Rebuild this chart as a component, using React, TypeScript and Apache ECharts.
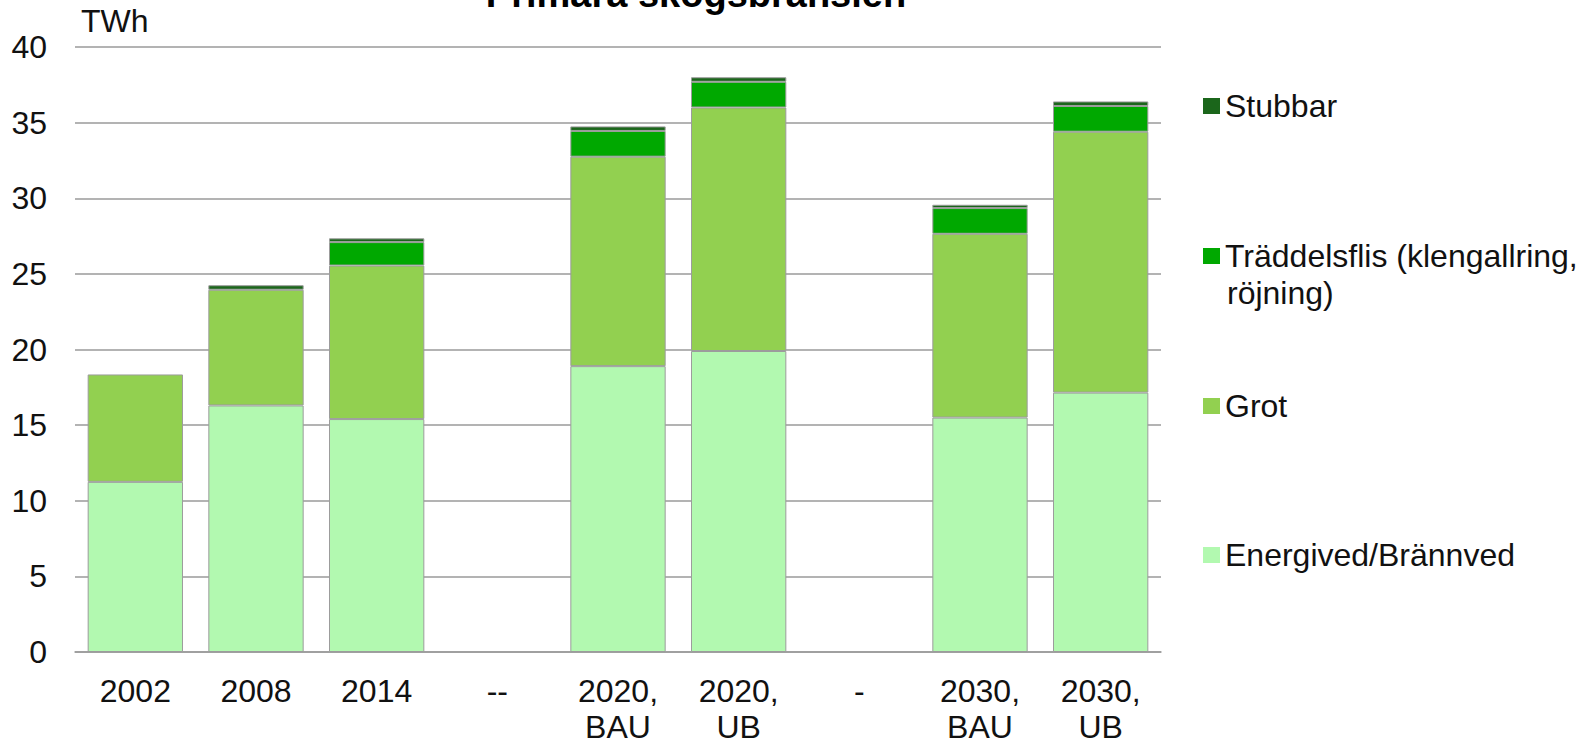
import React, { useEffect, useRef } from "react";
import * as echarts from "echarts";

const categories = ["2002", "2008", "2014", "--", "2020,\nBAU", "2020,\nUB", "-", "2030,\nBAU", "2030,\nUB"];
const energived = [11.25, 16.3, 15.4, null, 18.9, 19.9, null, 15.5, 17.15];
const grot = [7.1, 7.65, 10.15, null, 13.85, 16.1, null, 12.15, 17.25];
const traddelsflis = [null, null, 1.55, null, 1.7, 1.7, null, 1.7, 1.7];
const stubbar = [null, 0.3, 0.25, null, 0.3, 0.3, null, 0.22, 0.3];

const seriesNames = ["Energived/Brännved", "Grot", "Träddelsflis (klengallring, röjning)", "Stubbar"];
const seriesColors = ["#b2f9b0", "#92d050", "#00a800", "#1b661b"];
const seriesData = [energived, grot, traddelsflis, stubbar];

const FONT = "'Liberation Sans', Arial, sans-serif";

export default function App() {
  const ref = useRef<HTMLDivElement>(null);
  useEffect(() => {
    if (!ref.current) return;
    const chart = echarts.init(ref.current, undefined, { renderer: "svg" });
    const legendCenters = [555, 406, 256, 106];
    const legends = seriesNames.map((name, i) => ({
      show: true,
      data: [name],
      left: 1203,
      top: legendCenters[i] - 16,
      orient: "vertical",
      padding: 0,
      icon: "rect",
      itemWidth: 17,
      itemHeight: 16,
      itemGap: 0,
      selectedMode: false,
      itemStyle: { borderWidth: 0 },
      formatter: (n: string) => (n.startsWith("Träddelsflis") ? "Träddelsflis (klengallring," : n),
      textStyle: { fontSize: 32, fontFamily: FONT, color: "#111", padding: [0, 0, 0, 0] },
    }));
    chart.setOption({
      animation: false,
      backgroundColor: "#ffffff",
      grid: { left: 75, right: 433, top: 47, bottom: 93 },
      legend: legends,
      graphic: [
        {
          type: "text",
          x: 696,
          y: -6,
          style: {
            text: "Primära skogsbränslen",
            font: `bold 38px ${FONT}`,
            fill: "#000",
            align: "center",
            verticalAlign: "middle",
          },
        },
        {
          type: "text",
          x: 1227,
          y: 293,
          style: {
            text: "röjning)",
            font: `32px ${FONT}`,
            fill: "#111",
            align: "left",
            verticalAlign: "middle",
          },
        },
      ],
      xAxis: {
        type: "category",
        data: categories,
        axisLine: { show: true, lineStyle: { color: "#9a9a9a", width: 1.5 } },
        axisTick: { show: false },
        axisLabel: {
          fontSize: 32,
          fontFamily: FONT,
          color: "#111",
          lineHeight: 36,
          margin: 21,
          interval: 0,
        },
      },
      yAxis: {
        type: "value",
        min: 0,
        max: 40,
        interval: 5,
        name: "TWh",
        nameLocation: "end",
        nameGap: 26,
        nameTextStyle: {
          fontSize: 32,
          fontFamily: FONT,
          color: "#111",
          align: "left",
          verticalAlign: "middle",
          padding: [0, 0, 0, 6],
        },
        axisLine: { show: false },
        axisTick: { show: false },
        axisLabel: { fontSize: 32, fontFamily: FONT, color: "#111", margin: 28 },
        splitLine: { show: true, lineStyle: { color: "#9a9a9a", width: 1.5 } },
      },
      series: seriesNames.map((name, i) => ({
        name,
        type: "bar",
        stack: "total",
        data: seriesData[i],
        barCategoryGap: "21%",
        itemStyle: { color: seriesColors[i], borderColor: "#9c9c9c", borderWidth: 1 },
        emphasis: { disabled: true },
      })),
    });
    return () => chart.dispose();
  }, []);
  return (
    <div
      ref={ref}
      style={{ position: "fixed", left: 0, top: 0, width: 1594, height: 745, background: "#fff" }}
    />
  );
}
